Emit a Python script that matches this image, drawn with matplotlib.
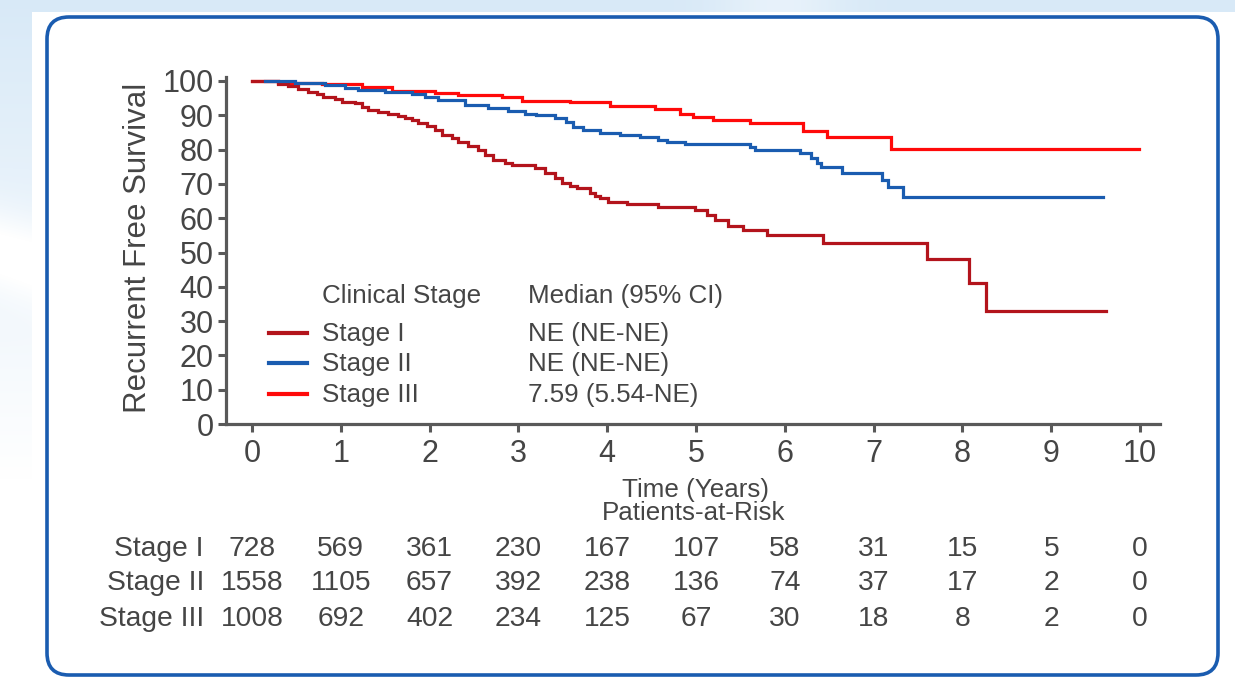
import numpy as np
import matplotlib
matplotlib.use('Agg')
import matplotlib.pyplot as plt
from matplotlib.patches import FancyBboxPatch
from matplotlib.lines import Line2D
from matplotlib import transforms

plt.rcParams['font.family'] = ['Liberation Sans', 'DejaVu Sans']

# ---------------- data ----------------
stages = ['Stage I', 'Stage II', 'Stage III']
medians = ['NE (NE-NE)', 'NE (NE-NE)', '7.59 (5.54-NE)']
colors = ['#b3141c', '#1a5cb0', '#ff0a0a']

t_stage1 = [0, 0.29, 0.40, 0.52, 0.63, 0.73, 0.80, 0.93, 1.01, 1.16, 1.24, 1.31, 1.42,
            1.53, 1.64, 1.72, 1.80, 1.87, 1.97, 2.06, 2.14, 2.25, 2.32, 2.43, 2.55,
            2.62, 2.71, 2.85, 2.93, 3.19, 3.30, 3.41, 3.49, 3.58, 3.66, 3.81, 3.86,
            3.92, 4.01, 4.22, 4.57, 4.99, 5.12, 5.21, 5.36, 5.53, 5.80, 6.43, 7.60,
            8.07, 8.27, 9.62]
s_stage1 = [100, 99.1, 98.5, 97.8, 96.8, 96.2, 95.4, 94.8, 93.9, 93.5, 92.5, 91.6, 91.1,
            90.3, 89.8, 89.2, 88.5, 87.7, 86.8, 85.8, 84.3, 83.4, 82.1, 81.1, 80.0,
            78.5, 77.1, 76.1, 75.4, 74.6, 73.1, 71.6, 70.2, 69.4, 68.7, 67.4, 66.5,
            65.8, 64.8, 64.1, 63.4, 62.4, 60.9, 59.5, 57.7, 56.6, 55.1, 52.7, 48.0,
            41.0, 32.9, 32.9]

t_stage2 = [0.15, 0.48, 0.82, 1.05, 1.19, 1.50, 1.80, 1.95, 2.10, 2.40, 2.66, 2.88,
            3.07, 3.20, 3.41, 3.54, 3.62, 3.73, 3.92, 4.14, 4.37, 4.57, 4.67, 4.88,
            5.61, 5.66, 6.17, 6.30, 6.36, 6.41, 6.64, 7.10, 7.16, 7.33, 9.58]
s_stage2 = [100, 99.5, 98.8, 98.1, 97.4, 96.9, 96.2, 95.4, 94.5, 93.0, 92.2, 91.3,
            90.5, 90.1, 89.1, 88.1, 86.7, 85.7, 84.9, 84.3, 83.6, 82.8, 82.3, 81.6,
            80.7, 79.9, 78.9, 77.5, 76.2, 75.0, 73.3, 71.1, 69.0, 66.3, 66.3]

t_stage3 = [0, 0.29, 0.79, 1.24, 1.58, 2.06, 2.32, 2.82, 3.04, 3.58, 4.03, 4.54, 4.82,
            4.97, 5.19, 5.61, 6.20, 6.47, 7.20, 9.99]
s_stage3 = [100, 99.5, 99.0, 98.2, 97.2, 96.4, 95.9, 95.2, 94.1, 93.8, 92.6, 91.7, 90.5,
            89.6, 88.6, 87.7, 85.5, 83.6, 80.2, 80.2]

risk_times = list(range(11))
risk_stage1 = [728, 569, 361, 230, 167, 107, 58, 31, 15, 5, 0]
risk_stage2 = [1558, 1105, 657, 392, 238, 136, 74, 37, 17, 2, 0]
risk_stage3 = [1008, 692, 402, 234, 125, 67, 30, 18, 8, 2, 0]

x_ticks = list(range(11))
y_ticks = list(range(0, 101, 10))

# ---------------- figure ----------------
W, H = 1235, 692
fig = plt.figure(figsize=(W / 100, H / 100), dpi=100)
fig.patch.set_facecolor('white')
tc = '#454545'

def px(x, y):
    return (x / W, 1 - y / H)

# background (slide)
bg = fig.add_axes([0, 0, 1, 1], zorder=-10)
bg.set_xlim(0, W)
bg.set_ylim(H, 0)
bg.axis('off')
yy, xx = np.mgrid[0:H, 0:W]
alpha = np.zeros((H, W))
alpha[yy < 12] = 1.0
left = xx < 32
alpha[left] = np.clip(1.0 - yy[left] / 480.0, 0, 1)
streak = np.exp(-((yy - 250 - 0.3 * xx) / 40.0) ** 2) * (xx < 32)
alpha = np.clip(alpha - 0.6 * streak, 0, 1)
topstreak = np.exp(-((xx - 780) / 60.0) ** 2) * (yy < 12)
alpha = np.clip(alpha - 0.4 * topstreak, 0, 1)
img = np.zeros((H, W, 4))
img[..., 0] = 0.84
img[..., 1] = 0.91
img[..., 2] = 0.97
img[..., 3] = alpha * 0.95
bg.imshow(img, extent=(0, W, H, 0), interpolation='bilinear')
box = FancyBboxPatch((47, 17), 1171, 658, boxstyle='round,pad=0,rounding_size=22',
                     ec='#1a5cb0', fc='white', lw=2.6)
bg.add_patch(box)

# main axes
x0, x1 = 226, 1160
y0, y1 = 77, 424
ax = fig.add_axes([x0 / W, 1 - y1 / H, (x1 - x0) / W, (y1 - y0) / H])
ax.patch.set_alpha(0)
pxu = 88.8
pyu = 3.43
ax.set_xlim((x0 - 252) / pxu, (x1 - 252) / pxu)
ax.set_ylim(0, (424 - y0) / pyu)

series = [(t_stage3, s_stage3, colors[2]),
          (t_stage1, s_stage1, colors[0]),
          (t_stage2, s_stage2, colors[1])]
for t, s, c in series:
    ax.step(t, s, where='post', color=c, lw=2.3, solid_joinstyle='miter')

for sp in ['top', 'right']:
    ax.spines[sp].set_visible(False)
for sp in ['left', 'bottom']:
    ax.spines[sp].set_linewidth(2.3)
    ax.spines[sp].set_color('#595959')
ax.set_xticks(x_ticks)
ax.set_yticks(y_ticks)
ax.tick_params(axis='both', length=6, width=2.2, color='#595959',
               labelsize=22, labelcolor=tc)
ax.tick_params(axis='x', pad=5)
ax.tick_params(axis='y', pad=3)

# y label
fig.text(*px(138, 248), 'Recurrent Free Survival', rotation=90, ha='center',
         va='center', fontsize=22.5, color=tc)

# legend (custom table)
fig.text(*px(322, 302.7), 'Clinical Stage', fontsize=18.7, color=tc,
         ha='left', va='baseline')
fig.text(*px(528, 302.7), 'Median (95% CI)', fontsize=18.7, color=tc,
         ha='left', va='baseline')
row_base = [340.7, 370.7, 401.7]
for name, med, c, yb in zip(stages, medians, colors, row_base):
    fig.text(*px(322, yb), name, fontsize=18.7, color=tc, ha='left', va='baseline')
    fig.text(*px(528, yb), med, fontsize=18.7, color=tc, ha='left', va='baseline')
    ly = 1 - (yb - 8) / H
    fig.add_artist(Line2D([269 / W, 307 / W], [ly, ly], color=c, lw=3,
                          transform=fig.transFigure))

# x label and risk table
fig.text(*px(695, 497), 'Time (Years)', fontsize=18.7, color=tc, ha='center', va='baseline')
fig.text(*px(693.5, 520), 'Patients-at-Risk', fontsize=18.7, color=tc, ha='center',
         va='baseline')

blend = transforms.blended_transform_factory(ax.transData, fig.transFigure)
risk_rows = [risk_stage1, risk_stage2, risk_stage3]
risk_base = [555.5, 590.5, 626]
for name, row, yb in zip(stages, risk_rows, risk_base):
    fig.text(*px(204, yb), name, fontsize=20.3, color=tc, ha='right', va='baseline')
    for tt, n in zip(risk_times, row):
        ax.text(tt, 1 - yb / H, str(n), transform=blend, fontsize=20.3, color=tc,
                ha='center', va='baseline', clip_on=False)

fig.savefig('out.png', dpi=100, facecolor='white')
